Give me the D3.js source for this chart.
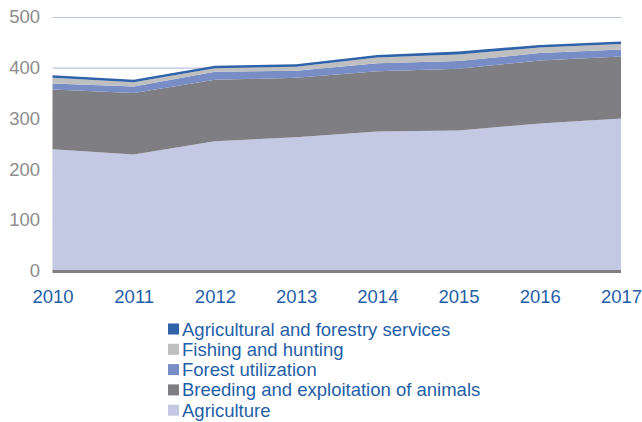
<!DOCTYPE html>
<html>
<head>
<meta charset="utf-8">
<script src="https://cdn.jsdelivr.net/npm/d3@7"></script>
<style>
  html, body { margin: 0; padding: 0; background: #ffffff; }
  svg { display: block; font-family: "Liberation Sans", Arial, sans-serif; }
</style>
</head>
<body>
<svg id="chart" width="642" height="422"></svg>
<script>
const years = [2010, 2011, 2012, 2013, 2014, 2015, 2016, 2017];
const agriculture = [240, 230, 256, 264, 275, 277, 291, 301];
const breeding = [118, 121, 121, 117, 119, 122, 124, 122];
const forestUtilization = [12, 13, 16, 14, 16, 15, 15, 14];
const fishingHunting = [11, 8.5, 7, 8, 11, 13, 11, 10.5];
const services = [5, 4.7, 5, 5, 5, 6, 5, 5.3];
const yTicks = [0, 100, 200, 300, 400, 500];

const seriesNames = [
  "Agriculture",
  "Breeding and exploitation of animals",
  "Forest utilization",
  "Fishing and hunting",
  "Agricultural and forestry services"
];
const seriesValues = [agriculture, breeding, forestUtilization, fishingHunting, services];
const seriesColors = ["#c3c9e2", "#7f7f83", "#788dc5", "#bfbfbf", "#2f62a8"];

const svg = d3.select("#chart");
const x = d3.scaleLinear().domain([2010, 2017]).range([52.5, 621]);
const y = d3.scaleLinear().domain([0, 500]).range([271, 17.5]);

// horizontal gridlines
svg.append("g").selectAll("line").data(yTicks.filter(t => t > 0)).join("line")
  .attr("x1", x(2010)).attr("x2", x(2017))
  .attr("y1", d => y(d)).attr("y2", d => y(d))
  .attr("stroke", "#bcc4df").attr("stroke-width", 1.2);

// stacked areas
const rows = years.map((yr, i) => {
  const r = { year: yr };
  seriesNames.forEach((n, k) => { r[n] = seriesValues[k][i]; });
  return r;
});
const stack = d3.stack().keys(seriesNames);
const layers = stack(rows);
const area = d3.area()
  .x(d => x(d.data.year))
  .y0(d => y(d[0]))
  .y1(d => y(d[1]));

svg.append("g").selectAll("path").data(layers).join("path")
  .attr("d", area)
  .attr("fill", (d, i) => seriesColors[i]);

// baseline
svg.append("line")
  .attr("x1", x(2010)).attr("x2", x(2017))
  .attr("y1", y(0) + 0.5).attr("y2", y(0) + 0.5)
  .attr("stroke", "#808080").attr("stroke-width", 3);

const fontSize = 18.5;

// y axis labels
const yAxis = d3.axisLeft(y).tickValues(yTicks).tickSize(0).tickPadding(0).tickFormat(d3.format("d"));
const yg = svg.append("g").attr("transform", "translate(40,-0.5)").call(yAxis);
yg.select(".domain").remove();
yg.selectAll("text").attr("fill", "#8c8c8c").attr("font-size", fontSize)
  .attr("font-family", "Liberation Sans, Arial, sans-serif");

// x axis labels
const xAxis = d3.axisBottom(x).tickValues(years).tickSize(0).tickPadding(0).tickFormat(d3.format("d"));
const xg = svg.append("g").attr("transform", "translate(0,290)").call(xAxis);
xg.select(".domain").remove();
xg.selectAll("text").attr("fill", "#1f5fa8").attr("font-size", fontSize)
  .attr("font-family", "Liberation Sans, Arial, sans-serif");

// legend (top row = top layer)
const legendOrder = seriesNames.map((n, i) => ({ name: n, color: seriesColors[i] })).reverse();
const lg = svg.append("g");
const item = lg.selectAll("g").data(legendOrder).join("g")
  .attr("transform", (d, i) => `translate(168, ${329 + i * 20.3})`);
item.append("rect").attr("x", 0).attr("y", -5.5).attr("width", 11).attr("height", 11)
  .attr("fill", d => d.color);
item.append("text").attr("x", 14).attr("y", 6.5).text(d => d.name)
  .attr("fill", "#1f5fa8").attr("font-size", fontSize);
</script>
</body>
</html>
